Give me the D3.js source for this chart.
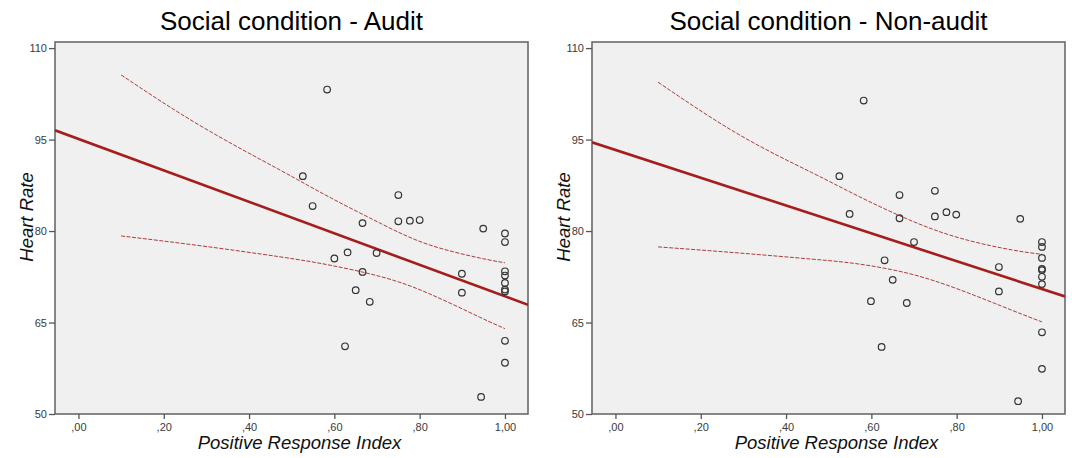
<!DOCTYPE html>
<html lang="en">
<head>
  <meta charset="utf-8">
  <title>Heart Rate vs Positive Response Index</title>
  <script src="https://cdn.jsdelivr.net/npm/d3@7"></script>
  <style>
    body {
      margin: 0;
      background: #fff;
    }

    text {
      font-family: "Liberation Sans", Arial, sans-serif;
    }

    .tick text {
      font-size: 11px;
      fill: #3a3a3a;
    }

    .tick line {
      stroke: #555;
      stroke-width: 1.3px;
    }

    .domain {
      display: none;
    }

    .frame {
      fill: #f0f0f0;
      stroke: #6a6a6a;
      stroke-width: 1.6px;
    }

    .dot {
      fill: none;
      stroke: #333;
      stroke-width: 1.2px;
    }

    .fit {
      fill: none;
      stroke: #a51d1d;
      stroke-width: 2.6px;
    }

    .ci {
      fill: none;
      stroke: #b03a3a;
      stroke-width: 1px;
      stroke-dasharray: 4 1.5;
    }

    .title {
      font-size: 26px;
      fill: #000;
    }

    .axis-label {
      font-size: 18.5px;
      font-style: italic;
      fill: #111;
    }
  </style>
</head>
<body>
<svg width="1072" height="458"></svg>
<script>

// audit panel points
var auditX = [0.583, 0.526, 0.549, 0.666, 0.750, 0.750, 0.777, 0.800, 0.949, 1.00,
              1.00, 0.600, 0.631, 0.699, 0.666, 0.650, 0.683, 0.899, 0.899, 1.00,
              1.00, 1.00, 1.00, 1.00, 0.625, 1.00, 1.00, 0.944];
var auditY = [103.2, 89.0, 84.1, 81.3, 85.9, 81.6, 81.7, 81.8, 80.4, 79.6,
              78.2, 75.5, 76.5, 76.4, 73.3, 70.3, 68.4, 73.0, 69.9, 73.4,
              72.7, 71.5, 70.4, 70.1, 61.1, 62.0, 58.4, 52.8];

// non-audit panel points
var nonAuditX = [0.582, 0.525, 0.549, 0.666, 0.666, 0.749, 0.749, 0.776, 0.799, 0.949,
                 0.700, 0.631, 0.650, 0.599, 0.683, 0.899, 0.899, 1.00, 1.00, 1.00,
                 1.00, 1.00, 1.00, 1.00, 0.624, 1.00, 1.00, 0.944];
var nonAuditY = [101.4, 89.0, 82.8, 85.9, 82.1, 86.6, 82.4, 83.1, 82.7, 82.0,
                 78.2, 75.2, 72.0, 68.5, 68.2, 74.1, 70.1, 78.2, 77.4, 75.6,
                 73.8, 73.6, 72.5, 71.3, 61.0, 63.4, 57.4, 52.1];

// linear fit: intercept, slope
var auditFit = [95.1, -25.8];
var nonAuditFit = [93.3, -22.8];

// 95% mean confidence band
var auditCiX = [0.10, 0.285, 0.47, 0.59, 0.71, 0.82, 0.94, 1.00];
var auditUpper = [105.6, 97.3, 90.1, 85.5, 81.2, 77.8, 75.6, 74.8];
var auditLower = [79.2, 77.6, 75.8, 74.4, 72.5, 69.8, 65.9, 64.0];

var nonAuditCiX = [0.10, 0.29, 0.46, 0.57, 0.69, 0.81, 0.93, 1.00];
var nonAuditUpper = [104.4, 95.8, 89.6, 85.7, 81.8, 78.8, 76.9, 76.2];
var nonAuditLower = [77.4, 76.4, 75.4, 74.6, 73.0, 70.3, 67.0, 65.1];

var xTicks = [0, 0.2, 0.4, 0.6, 0.8, 1.0];
var yTicks = [50, 65, 80, 95, 110];

var svg = d3.select("svg");

var panels = [
  { title: "Social condition - Audit", left: 55, xs: auditX, ys: auditY,
    fit: auditFit, ciX: auditCiX, upper: auditUpper, lower: auditLower },
  { title: "Social condition - Non-audit", left: 592, xs: nonAuditX, ys: nonAuditY,
    fit: nonAuditFit, ciX: nonAuditCiX, upper: nonAuditUpper, lower: nonAuditLower }
];

var plotW = 473, plotTop = 42, plotBottom = 414;

var fmtX = function(d) {
  return d3.format(".2f")(d).replace(".", ",").replace(/^0/, "");
};

panels.forEach(function(p, i) {
  var x = d3.scaleLinear().domain([-0.055, 1.054]).range([p.left, p.left + plotW]);
  var y = d3.scaleLinear().domain([50, 111.0]).range([plotBottom, plotTop]);

  var g = svg.append("g");
  var clipId = "clip" + i;

  g.append("clipPath").attr("id", clipId)
    .append("rect")
      .attr("x", x.range()[0]).attr("y", plotTop)
      .attr("width", plotW).attr("height", plotBottom - plotTop);

  g.append("rect")
      .attr("class", "frame")
      .attr("x", x.range()[0]).attr("y", plotTop)
      .attr("width", plotW).attr("height", plotBottom - plotTop);

  g.append("g")
      .attr("transform", "translate(0," + plotBottom + ")")
      .call(d3.axisBottom(x).tickValues(xTicks).tickFormat(fmtX).tickSize(5).tickPadding(4));

  g.append("g")
      .attr("transform", "translate(" + x.range()[0] + ",0)")
      .call(d3.axisLeft(y).tickValues(yTicks).tickSize(6).tickPadding(2));

  var inner = g.append("g").attr("clip-path", "url(#" + clipId + ")");

  // confidence band lines
  var band = d3.line()
      .x(function(d) { return x(d[0]); })
      .y(function(d) { return y(d[1]); })
      .curve(d3.curveNatural);

  inner.append("path").attr("class", "ci")
      .attr("d", band(d3.zip(p.ciX, p.upper)));
  inner.append("path").attr("class", "ci")
      .attr("d", band(d3.zip(p.ciX, p.lower)));

  // fit line across the full x range
  var ends = x.domain();
  inner.append("line").attr("class", "fit")
      .attr("x1", x(ends[0])).attr("y1", y(p.fit[0] + p.fit[1] * ends[0]))
      .attr("x2", x(ends[1])).attr("y2", y(p.fit[0] + p.fit[1] * ends[1]));

  inner.selectAll("circle")
    .data(d3.zip(p.xs, p.ys))
    .enter().append("circle")
      .attr("class", "dot")
      .attr("cx", function(d) { return x(d[0]); })
      .attr("cy", function(d) { return y(d[1]); })
      .attr("r", 3.3);

  var cx = p.left + plotW / 2;

  g.append("text")
      .attr("class", "title")
      .attr("x", cx).attr("y", 30)
      .attr("text-anchor", "middle")
      .text(p.title);

  g.append("text")
      .attr("class", "axis-label")
      .attr("x", cx + 8).attr("y", 449)
      .attr("text-anchor", "middle")
      .text("Positive Response Index");

  g.append("text")
      .attr("class", "axis-label")
      .attr("transform", "translate(" + (p.left - 22) + "," + 217 + ") rotate(-90)")
      .attr("text-anchor", "middle")
      .text("Heart Rate");
});

</script>
</body>
</html>
